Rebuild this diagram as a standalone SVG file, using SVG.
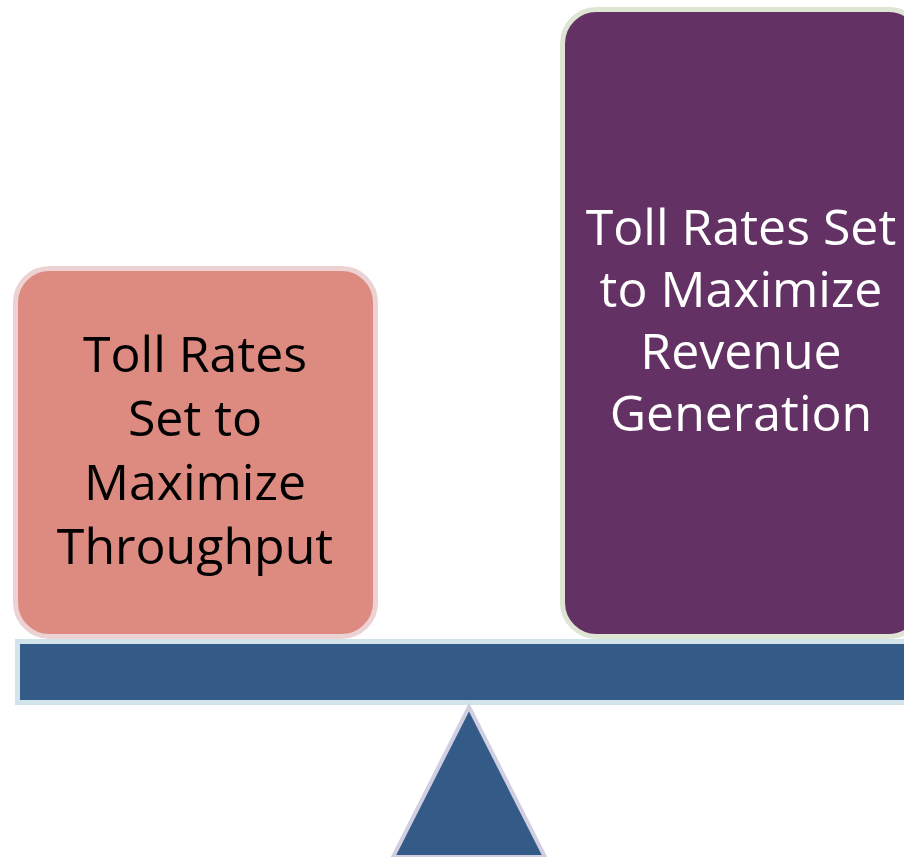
<svg xmlns="http://www.w3.org/2000/svg" width="904" height="857" viewBox="0 0 904 857">
<style>
  .lbl { font-family: "Open Sans", "Liberation Sans", sans-serif; font-size: 50px; text-anchor: middle; }
</style>
<rect width="904" height="857" fill="#ffffff"/>
<g id="left-box">
  <rect x="15.5" y="268.5" width="360" height="368" rx="34" ry="34" fill="#dd8a80" stroke="#ecd2d2" stroke-width="5"/>
  <text class="lbl" fill="#000000"><tspan x="195" y="372">Toll Rates</tspan><tspan x="195" y="436">Set to</tspan><tspan x="195" y="500">Maximize</tspan><tspan x="195" y="564">Throughput</tspan></text>
</g>
<g id="right-box">
  <rect x="562.5" y="9.5" width="360" height="627" rx="34" ry="34" fill="#633163" stroke="#dfe5d3" stroke-width="5"/>
  <text class="lbl" fill="#ffffff"><tspan x="741" y="245">Toll Rates Set</tspan><tspan x="741" y="307">to Maximize</tspan><tspan x="741" y="369">Revenue</tspan><tspan x="741" y="431">Generation</tspan></text>
</g>
<g id="beam">
  <rect x="17.5" y="641.5" width="900" height="61" fill="#345a88" stroke="#d3e3ea" stroke-width="5"/>
</g>
<g id="fulcrum">
  <polygon points="469,707 545,857 393,857" fill="#345a88" stroke="#d0cfe1" stroke-width="4" stroke-linejoin="miter"/>
</g>
<g id="connectors"/>
</svg>
